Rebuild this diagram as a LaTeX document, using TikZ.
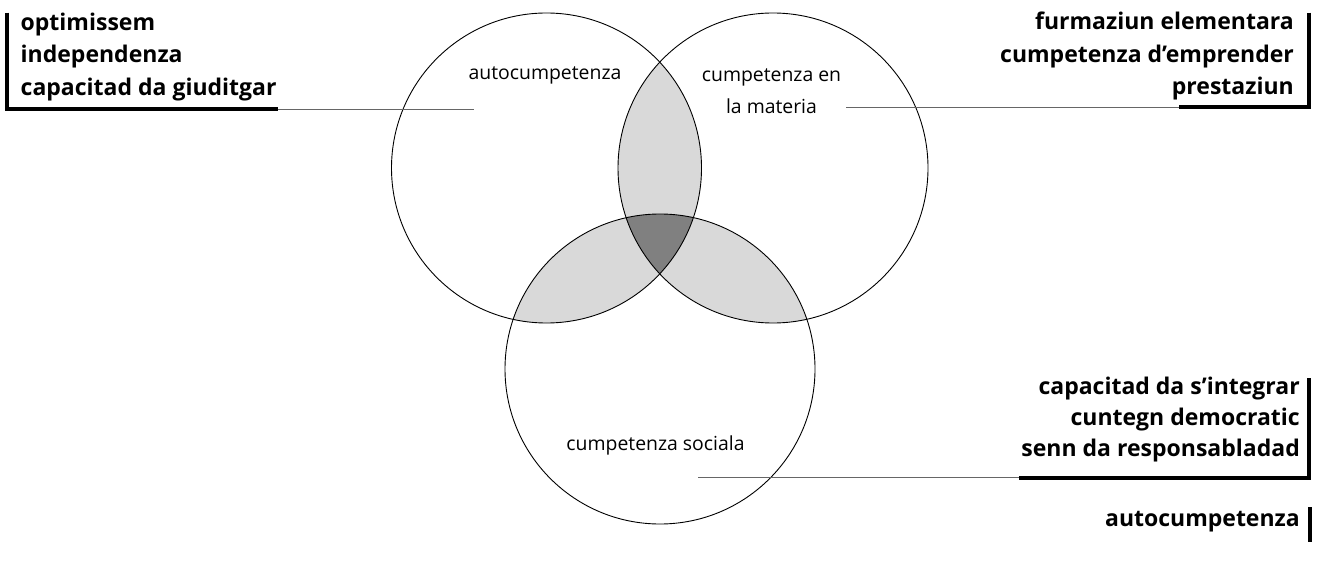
\documentclass[tikz,border=0pt]{standalone}
\usepackage{fontspec}
\setmainfont{Open Sans}
\usetikzlibrary{positioning,backgrounds}

\begin{document}
\begin{tikzpicture}
  [x=1pt,y=-1pt,
   zirkel/.style={circle,draw=black,line width=0.9pt,inner sep=0pt,minimum size=310pt},
   rubrica/.style={font=\fontsize{19.4}{32.5}\selectfont,align=center,inner sep=0pt},
   glista/.style={font=\fontsize{23}{32.5}\selectfont\bfseries,inner sep=0pt},
   clav/.style={line width=4pt},
   fil/.style={draw=black!60,line width=1.3pt},
   pitg/.style={fill=black!15},
   stgir/.style={fill=black!50}]
  \useasboundingbox (0,0) rectangle (1324,577);

  \node (auto)    at (546.5,168) [zirkel] {};
  \node (materia) at (773,168)   [zirkel] {};
  \node (sociala) at (660,369)   [zirkel] {};

  \node (auto-txt)    at (545,75)    [rubrica] {autocumpetenza};
  \node (materia-txt) at (771.5,91)  [rubrica] {cumpetenza en\\la materia};
  \node (sociala-txt) at (655.5,445) [rubrica] {cumpetenza sociala};

  % surfatschas cuminaivlas
  \begin{scope}[on background layer]
    \begin{scope}
      \clip (auto.center) circle (155pt);
      \fill[pitg] (materia.center) circle (155pt);
      \fill[pitg] (sociala.center) circle (155pt);
    \end{scope}
    \begin{scope}
      \clip (materia.center) circle (155pt);
      \fill[pitg] (sociala.center) circle (155pt);
    \end{scope}
    \begin{scope}
      \clip (auto.center) circle (155pt);
      \clip (materia.center) circle (155pt);
      \fill[stgir] (sociala.center) circle (155pt);
    \end{scope}
  \end{scope}

  \node (auto-glista) at (20.5,12.5) [glista,anchor=north west,align=left]
    {optimissem\\independenza\\capacitad da giuditgar};
  \node (materia-glista) at (1294,12) [glista,anchor=north east,align=right]
    {furmaziun elementara\\cumpetenza d’emprender\\prestaziun};
  \node (sociala-glista) at (1300,377) [glista,anchor=north east,align=right,
    font=\fontsize{23}{31}\selectfont\bfseries]
    {capacitad da s’integrar\\cuntegn democratic\\senn da responsabladad};
  \node (auto-nota) at (1300,526) [glista,anchor=base east] {autocumpetenza};

  \coordinate (auto-sur)     at (6.7,12.7);
  \coordinate (auto-cant)    at (278,109.5);
  \coordinate (auto-pin)     at (474,109.5);
  \coordinate (materia-sur)  at (1309,12.7);
  \coordinate (materia-cant) at (1179,107.5);
  \coordinate (materia-pin)  at (846,107.5);
  \coordinate (sociala-sur)  at (1309,378);
  \coordinate (sociala-cant) at (1019,477.5);
  \coordinate (sociala-pin)  at (698,477.5);
  \coordinate (nota-sur)     at (1310,507);
  \coordinate (nota-giu)     at (1310,542);

  \draw[clav] (auto-sur) |- (auto-cant);
  \draw[fil] (auto-cant) -- (auto-pin);
  \draw[clav] (materia-sur) |- (materia-cant);
  \draw[fil] (materia-cant) -- (materia-pin);
  \draw[clav] (sociala-sur) |- (sociala-cant);
  \draw[fil] (sociala-cant) -- (sociala-pin);
  \draw[clav] (nota-sur) -- (nota-giu);
\end{tikzpicture}
\end{document}
